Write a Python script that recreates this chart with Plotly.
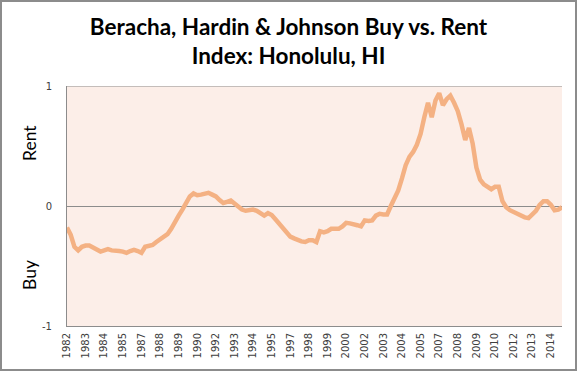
import plotly.graph_objects as go

quarters = [f"{1982 + i // 4}Q{i % 4 + 1}" for i in range(134)]

index_values = [
    -0.18, -0.24, -0.34, -0.37, -0.34, -0.33, -0.33, -0.345, -0.36, -0.38,
    -0.37, -0.36, -0.37, -0.37, -0.375, -0.38, -0.39, -0.375, -0.365, -0.375,
    -0.39, -0.34, -0.335, -0.325, -0.30, -0.28, -0.26, -0.235, -0.19, -0.125,
    -0.08, -0.03, 0.03, 0.08, 0.105, 0.09, 0.095, 0.105, 0.11, 0.095,
    0.08, 0.05, 0.025, 0.035, 0.045, 0.02, -0.01, -0.03, -0.04, -0.035,
    -0.03, -0.04, -0.055, -0.08, -0.06, -0.075, -0.11, -0.145, -0.18, -0.22,
    -0.255, -0.27, -0.285, -0.295, -0.30, -0.285, -0.285, -0.30, -0.21, -0.22,
    -0.21, -0.19, -0.19, -0.19, -0.17, -0.14, -0.145, -0.15, -0.16, -0.17,
    -0.12, -0.125, -0.12, -0.08, -0.065, -0.07, -0.07, 0.0, 0.06, 0.13,
    0.23, 0.34, 0.41, 0.45, 0.51, 0.60, 0.74, 0.86, 0.74, 0.88,
    0.94, 0.84, 0.89, 0.92, 0.86, 0.79, 0.68, 0.55, 0.65, 0.52,
    0.32, 0.22, 0.18, 0.16, 0.14, 0.16, 0.16, 0.04, -0.01, -0.035,
    -0.05, -0.07, -0.08, -0.095, -0.10, -0.07, -0.04, 0.01, 0.04, 0.04,
    0.01, -0.035, -0.03, -0.01,
]

tick_years = ["1982", "1983", "1984", "1985", "1987", "1988", "1989", "1990",
              "1992", "1993", "1994", "1995", "1997", "1998", "1999", "2000",
              "2002", "2003", "2004", "2005", "2007", "2008", "2009", "2010",
              "2012", "2013", "2014"]
tick_quarters = quarters[0:len(tick_years) * 5:5]

y_ticks = [-1, 0, 1]
y_tick_labels = ["-1", "0", "1"]

W, H = 577, 371
L, R, T, B = 67, 15, 86, 45
pw, ph = W - L - R, H - T - B

fig = go.Figure()
fig.add_trace(go.Scatter(
    x=quarters, y=index_values, mode="lines",
    line=dict(color="#F4B183", width=4.5),
    hoverinfo="skip", showlegend=False,
))

fig.update_layout(
    width=W, height=H,
    margin=dict(l=L, r=R, t=T, b=B),
    paper_bgcolor="white",
    plot_bgcolor="#FCEEE8",
    title=dict(
        text="Beracha, Hardin & Johnson Buy vs. Rent<br>Index: Honolulu, HI",
        font=dict(family="Lato", size=22.5, color="black", weight="bold"),
        x=0.5, xanchor="center", y=0.905, yanchor="top",
    ),
    xaxis=dict(
        type="category",
        range=[0, len(quarters) - 1],
        tickmode="array", tickvals=tick_quarters, ticktext=tick_years,
        tickangle=-90,
        tickfont=dict(family="DejaVu Sans", size=10, color="#404040"),
        showgrid=False, zeroline=False,
        showline=True, linecolor="#8c8c8c", linewidth=1,
        ticks="", ticklabelstandoff=2,
    ),
    yaxis=dict(
        range=[-1, 1],
        tickmode="array", tickvals=y_ticks, ticktext=y_tick_labels,
        tickfont=dict(family="DejaVu Sans", size=10, color="#404040"),
        showgrid=True, gridcolor="#8c8c8c", gridwidth=1,
        zeroline=True, zerolinecolor="#8c8c8c", zerolinewidth=1,
        showline=True, linecolor="#8c8c8c", linewidth=1,
        ticks="", ticklabelstandoff=12,
    ),
    annotations=[
        dict(text="Rent", xref="paper", yref="paper",
             x=-(L - 29) / pw, y=(326 - 143) / ph, textangle=-90,
             showarrow=False, xanchor="center", yanchor="middle",
             font=dict(family="Lato", size=17.5, color="black")),
        dict(text="Buy", xref="paper", yref="paper",
             x=-(L - 29) / pw, y=(326 - 275) / ph, textangle=-90,
             showarrow=False, xanchor="center", yanchor="middle",
             font=dict(family="Lato", size=17.5, color="black")),
    ],
    shapes=[
        dict(type="line", xref="paper", yref="y", x0=0, x1=1,
             y0=y_ticks[-1], y1=y_ticks[-1],
             line=dict(color="#8c8c8c", width=1), layer="below"),
        dict(type="rect", xref="paper", yref="paper",
             x0=-(L - 1) / pw, x1=1 + (R - 1) / pw,
             y0=-(B - 1) / ph, y1=1 + (T - 1) / ph,
             line=dict(color="#8c8c8c", width=2), layer="above"),
    ],
)

fig.write_html("out.html",
               config={"displayModeBar": False},
               post_script="document.body.style.margin='0';document.body.style.overflow='hidden';")
